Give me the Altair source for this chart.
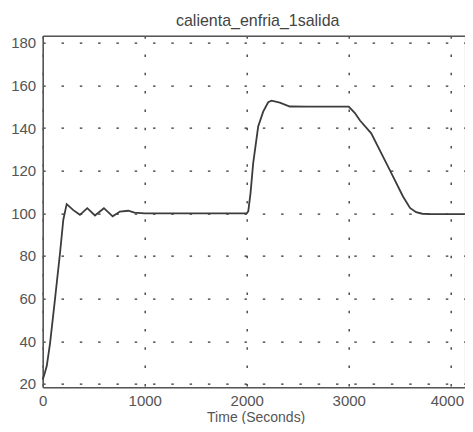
import altair as alt
import pandas as pd

# --- data ---
time_s = [0, 20, 40, 72, 120, 170, 202, 235, 300, 365, 437, 512, 600, 686, 757,
          838, 900, 1000, 1500, 2000, 2015, 2037, 2063, 2112, 2161, 2210, 2243,
          2324, 2422, 2600, 3000, 3060, 3110, 3220, 3400, 3530, 3600, 3660, 3720,
          3800, 4000, 4136]
value = [22, 25, 28.5, 39, 59.5, 81.5, 97, 104.3, 101.5, 99.3, 102.4, 99, 102.4,
         98.6, 100.8, 101.2, 100.3, 100, 100, 100, 101, 109.5, 123.5, 140.7, 147.7,
         152.1, 152.8, 151.9, 150.1, 150, 150, 147, 143.5, 137.5, 120.5, 108, 102.5,
         100.5, 99.8, 99.6, 99.6, 99.6]

x_ticks = [0, 1000, 2000, 3000, 4000]
y_ticks = [20, 40, 60, 80, 100, 120, 140, 160, 180]

title_text = "calienta_enfria_1salida"
x_title = "Time (Seconds)"

df = pd.DataFrame({"t": time_s, "v": value})

FONT = "Liberation Sans"
TXT = "#555555"
AX = "#555555"

x_scale = alt.Scale(domain=[0, 4136], nice=False, zero=False)
y_scale = alt.Scale(domain=[18.4, 183.3], nice=False, zero=False)

line = alt.Chart(df).mark_line(color="#3c3c3c", strokeWidth=1.8).encode(
    x=alt.X("t:Q", scale=x_scale,
            axis=alt.Axis(values=x_ticks, title=x_title, grid=True, format="d",
                          gridColor="#333333", gridDash=[2.5, 15.8], gridWidth=1.3,
                          gridOpacity=1,
                          domainColor=AX, domainWidth=1.6, ticks=False,
                          labelFont=FONT, labelFontSize=15, labelColor=TXT,
                          labelPadding=6, labelFlush=False, labelOverlap=False,
                          labelOffset={"condition": {"test": "datum.value == 4000",
                                                     "value": -4},
                                       "value": 0},
                          titleFont=FONT, titleFontSize=14, titleFontWeight="normal",
                          titleColor=TXT, titlePadding=2, titleX=213)),
    y=alt.Y("v:Q", scale=y_scale,
            axis=alt.Axis(values=y_ticks, title=None, grid=True,
                          gridColor="#333333", gridDash=[2.5, 15.8], gridWidth=1.3,
                          gridOpacity=1,
                          domainColor=AX, domainWidth=1.6, ticks=False,
                          labelFont=FONT, labelFontSize=15, labelColor=TXT,
                          labelPadding=7, labelOverlap=False)),
)

top = alt.Chart(df).mark_rule(opacity=0).encode(
    x=alt.X("t:Q", scale=x_scale,
            axis=alt.Axis(orient="top", labels=False, ticks=False, grid=False,
                          domain=True, domainColor=AX, domainWidth=1.6, title=None,
                          minExtent=0, maxExtent=0)),
)

chart = alt.layer(line, top).resolve_axis(x="independent").properties(
    width=422,
    height=351.6,
    autosize=alt.AutoSizeParams(type="none"),
    padding={"left": 34.7, "top": 27.7, "right": 0, "bottom": 36.5},
    title=alt.TitleParams(title_text, font=FONT, fontSize=16, fontWeight="normal",
                          color="#444444", anchor="middle", baseline="bottom",
                          offset=9, dx=4, dy=18),
).configure_view(stroke="transparent").configure(background="white")

chart.save("out.html", embed_options={"renderer": "svg", "actions": False})
